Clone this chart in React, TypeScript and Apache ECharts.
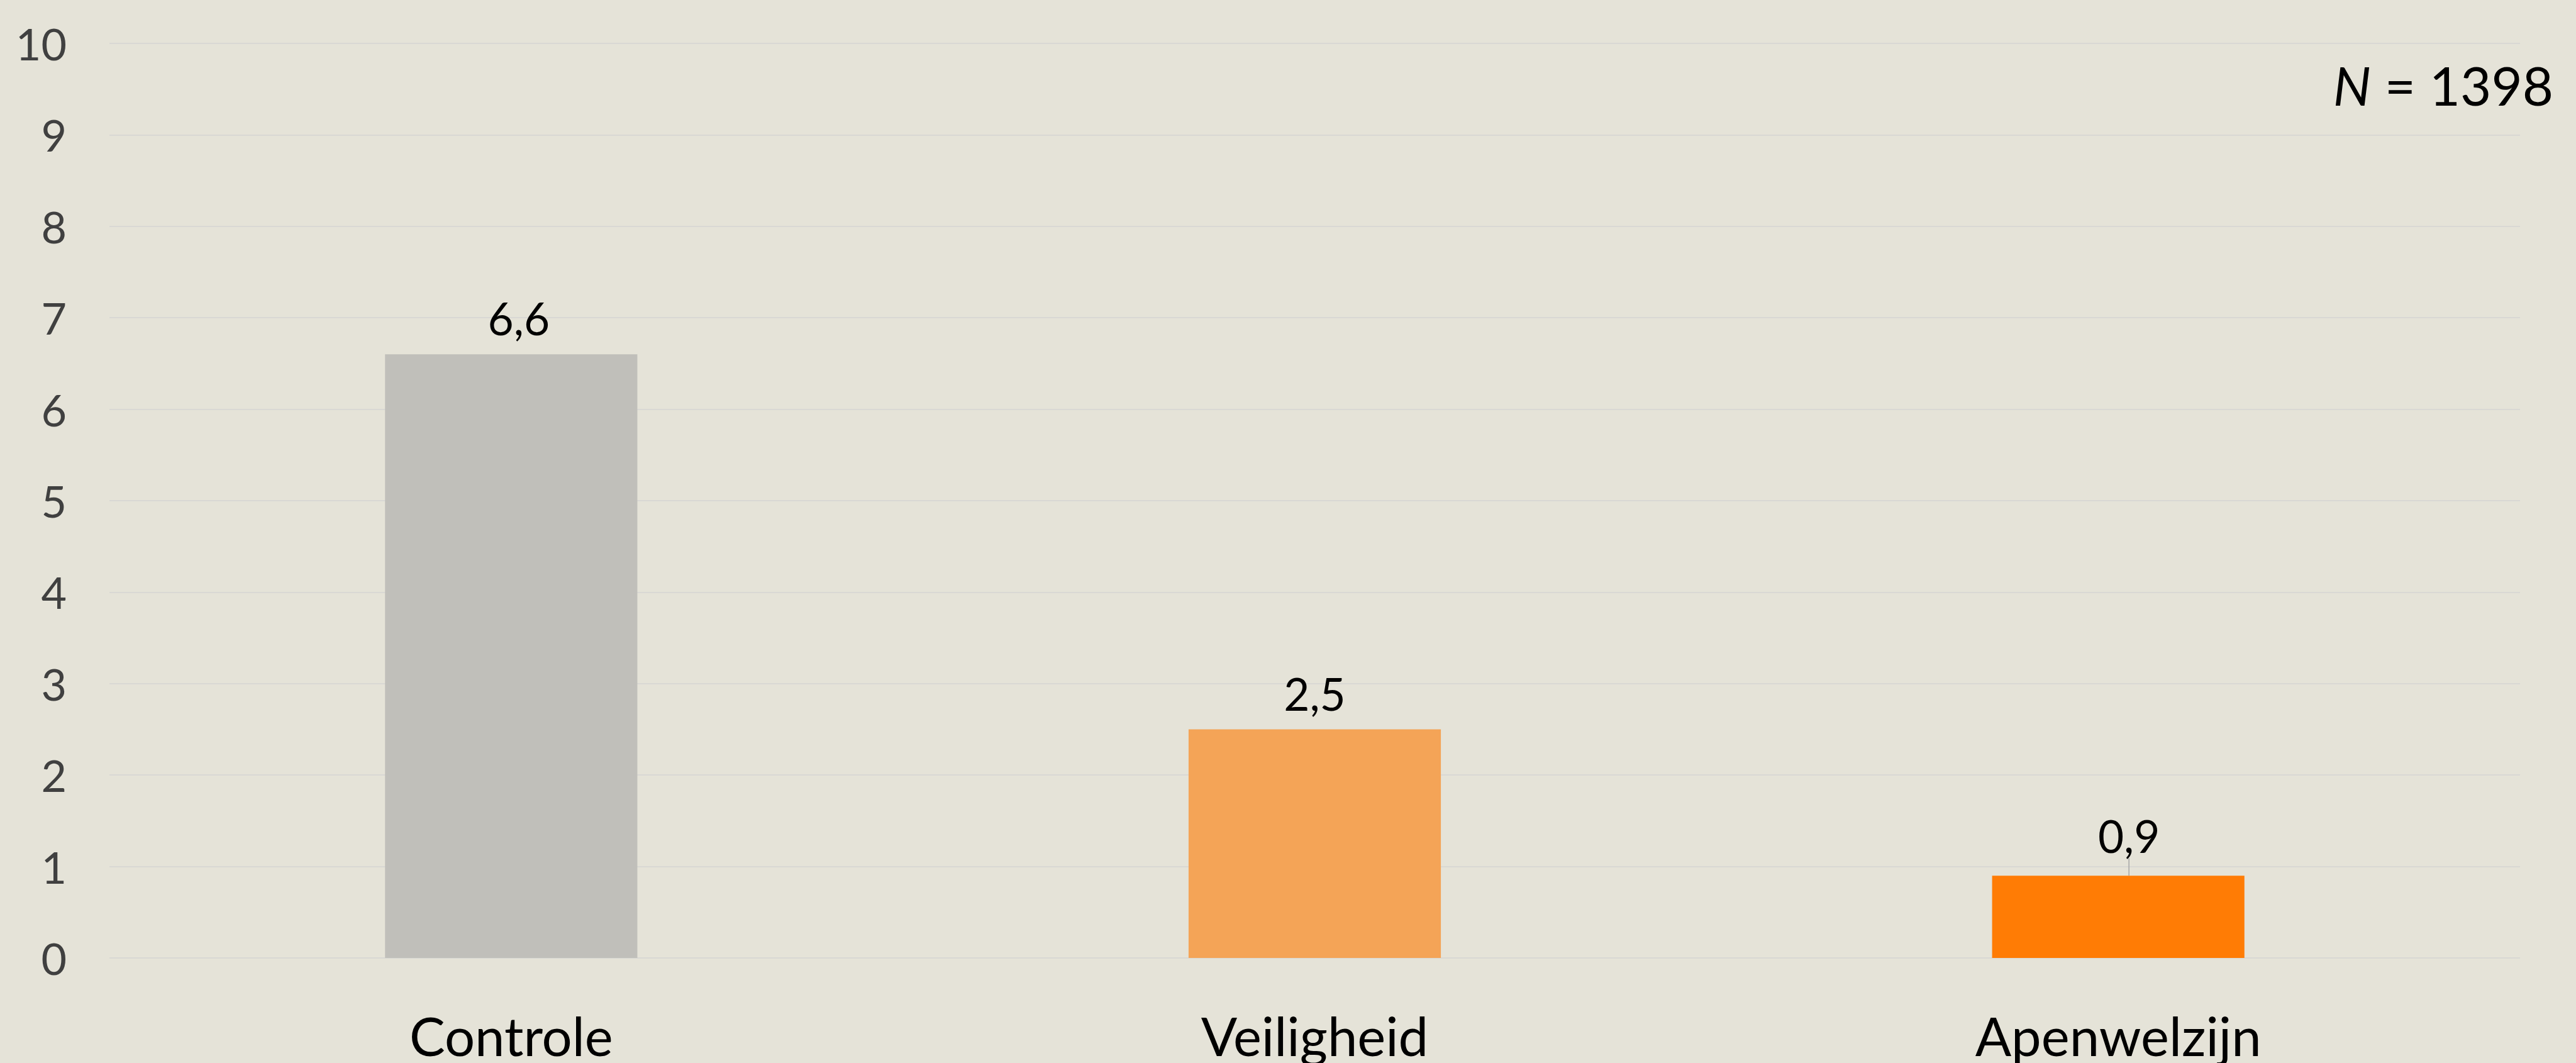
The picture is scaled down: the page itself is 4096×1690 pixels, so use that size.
import React, { useEffect, useRef } from "react";
import * as echarts from "echarts";

const categories = ["Controle", "Veiligheid", "Apenwelzijn"];
const values = [6.6, 2.5, 0.9];
const barColors = ["#C0BFBA", "#F4A457", "#FF7C05"];
const yMin = 0;
const yMax = 10;
const yStep = 1;
const sampleSize = 1398;

const FONT = "Lato";

export default function App() {
  const ref = useRef<HTMLDivElement>(null);

  useEffect(() => {
    if (!ref.current) return;
    const chart = echarts.init(ref.current, undefined, { renderer: "svg" });
    const fmt = (v: number) => v.toFixed(1).replace(".", ",");
    chart.setOption({
      animation: false,
      backgroundColor: "#E5E3D8",
      textStyle: { fontFamily: FONT },
      grid: { left: 174, right: 89, top: 69, bottom: 167, containLabel: false },
      xAxis: {
        type: "category",
        data: categories,
        axisLine: { show: false },
        axisTick: { show: false },
        splitLine: { show: false },
        axisLabel: { fontSize: 85, color: "#000000", margin: 80, fontFamily: FONT },
      },
      yAxis: {
        type: "value",
        min: yMin,
        max: yMax,
        interval: yStep,
        axisLine: { show: false },
        axisTick: { show: false },
        axisLabel: { fontSize: 70, color: "#404040", margin: 68, fontFamily: FONT },
        splitLine: { show: true, lineStyle: { color: "#D9D8D4", width: 2 } },
      },
      series: [
        {
          type: "bar",
          barWidth: "31.4%",
          data: values.map((v, i) => ({
            value: v,
            itemStyle: { color: barColors[i] },
            labelLine: i === 2 ? { show: true, lineStyle: { color: "#A6A6A6", width: 1.5 } } : { show: false },
          })),
          label: {
            show: true,
            position: "top",
            distance: 22,
            fontSize: 71,
            color: "#000000",
            fontFamily: FONT,
            formatter: (p: any) => fmt(p.value),
          },
          labelLayout: (p: any) =>
            p.dataIndex === 2 ? { dx: 17, dy: -6 } : p.dataIndex === 0 ? { dx: 12 } : {},
        },
      ],
      graphic: [
        {
          type: "text",
          right: 36,
          top: 92,
          style: {
            text: "{i|N} = " + sampleSize,
            fontSize: 85,
            fontFamily: FONT,
            fill: "#000000",
            rich: {
              i: { fontStyle: "italic", fontSize: 85, fontFamily: FONT, fill: "#000000" },
            },
          },
        },
      ],
    });
    return () => chart.dispose();
  }, []);

  return (
    <div
      ref={ref}
      style={{ position: "fixed", left: 0, top: 0, width: 4096, height: 1690 }}
    />
  );
}
